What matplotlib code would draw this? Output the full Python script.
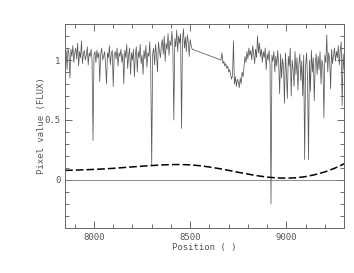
import matplotlib
matplotlib.use("Agg")
import matplotlib.pyplot as plt
import numpy as np

# spectrum, first chunk 7850-8510 A every 5 A
pos_a = np.arange(7850, 8511, 5)
flux_a = [
    1.00, 1.08, 0.92, 1.10, 1.05, 0.85, 1.09, 1.03, 1.12, 0.98,
    1.06, 1.10, 1.01, 1.14, 0.95, 1.07, 1.02, 1.16, 0.97, 1.05,
    1.08, 1.00, 1.04, 1.11, 0.96, 1.06, 1.03, 1.09, 0.99, 0.33,
    1.04, 1.07, 0.98, 1.08, 1.02, 1.06, 0.82, 1.05, 1.10, 1.00,
    1.03, 1.07, 0.97, 0.80, 1.06, 1.02, 1.12, 0.96, 1.05, 1.08,
    0.78, 1.04, 1.07, 1.01, 1.10, 0.95, 1.06, 1.03, 1.09, 0.98,
    1.05, 0.80, 1.08, 1.02, 1.13, 0.93, 1.04, 1.10, 0.88, 1.06,
    1.00, 1.09, 0.86, 1.05, 1.11, 0.90, 1.07, 1.02, 1.13, 0.97,
    1.04, 0.88, 1.08, 1.01, 1.12, 0.94, 1.06, 1.03, 1.15, 0.92,
    0.12, 1.05, 1.10, 0.96, 1.13, 1.04, 0.90, 1.15, 1.08, 1.02,
    1.12, 1.17, 1.05, 1.20, 0.99, 1.14, 1.09, 1.22, 1.04, 1.16,
    1.12, 1.24, 1.08, 0.50, 1.18, 1.11, 1.25, 1.07, 1.20, 1.14,
    1.22, 0.43, 1.16, 1.26, 1.10, 1.19, 1.07, 1.21, 1.15, 1.03,
    1.17, 1.12, 1.09,
]

# second chunk 8660-9300 A every 5 A
pos_b = np.arange(8660, 9301, 5)
flux_b = [
    1.00, 1.06, 0.97, 0.99, 0.95, 0.97, 0.93, 0.95, 0.90, 0.92,
    0.88, 0.84, 0.87, 1.16, 0.80, 0.86, 0.78, 0.84, 0.82, 0.77,
    0.85, 0.80, 0.90, 0.86, 0.95, 1.03, 0.98, 1.07, 1.01, 1.10,
    1.04, 1.08, 1.00, 1.12, 1.05, 0.97, 1.09, 1.02, 1.20, 1.06,
    1.14, 1.03, 1.09, 0.98, 1.07, 1.02, 1.10, 0.92, 1.05, 1.00,
    1.08, 0.96, -0.20, 1.04, 0.99, 1.07, 0.90, 1.03, 0.95, 1.08,
    0.97, 0.72, 1.05, 0.85, 1.01, 0.94, 0.64, 1.06, 0.90, 0.68,
    1.03, 0.95, 1.10, 0.70, 1.00, 0.92, 0.78, 1.07, 0.88, 1.02,
    0.75, 0.97, 1.05, 0.83, 0.99, 0.70, 1.04, 0.17, 0.95, 1.06,
    0.85, 0.17, 1.00, 0.74, 1.08, 0.90, 1.02, 0.66, 0.97, 1.05,
    0.88, 1.03, 0.92, 1.07, 0.80, 1.00, 0.95, 0.52, 1.04, 0.98,
    1.21, 0.90, 1.06, 1.01, 0.76, 1.09, 0.97, 1.04, 1.10, 0.99,
    1.07, 1.02, 1.12, 0.96, 1.08, 1.15, 0.62, 1.05, 0.92,
]

# smooth dashed curve
curve_pos = np.arange(7850, 9301, 50)
curve_val = [
    0.080, 0.082, 0.085, 0.088, 0.092, 0.097, 0.103, 0.109, 0.115, 0.120,
    0.125, 0.128, 0.129, 0.126, 0.119, 0.108, 0.095, 0.080, 0.064, 0.049,
    0.035, 0.024, 0.017, 0.015, 0.018, 0.028, 0.045, 0.067, 0.097, 0.135,
]

x_ticks = [8000, 8500, 9000]
y_ticks = [0, 0.5, 1]
y_tick_labels = ["0", "0.5", "1"]

grey = "#555555"
plt.rcParams['font.family'] = ['DejaVu Sans Mono']

fig = plt.figure(figsize=(3.54, 2.73), dpi=100)
fig.patch.set_facecolor("white")
ax = fig.add_axes([0.184, 0.165, 0.788, 0.747])

pos = np.concatenate([pos_a, pos_b])
flux = np.concatenate([flux_a, flux_b])
ax.plot(pos, flux, color="#5a5a5a", linewidth=0.55)
ax.axhline(0, color="#777777", linewidth=0.6)
ax.plot(curve_pos, curve_val, color="black", linewidth=1.1, linestyle=(0, (5, 2)))

ax.set_xlim(7850, 9300)
ax.set_ylim(-0.4, 1.3)
ax.set_xticks(x_ticks)
ax.set_xticks(np.arange(7900, 9301, 100), minor=True)
ax.set_yticks(y_ticks)
ax.set_yticklabels(y_tick_labels)
ax.set_yticks(np.arange(-0.4, 1.31, 0.1), minor=True)

ax.tick_params(which="both", direction="in", top=True, right=True,
               colors=grey, labelsize=6.5, width=0.6)
ax.tick_params(which="major", length=5)
ax.tick_params(which="minor", length=3)
for s in ax.spines.values():
    s.set_color("#666666")
    s.set_linewidth(0.7)

ax.set_xlabel("Position ( )", fontsize=6.5, color=grey, labelpad=1)
ax.set_ylabel("Pixel value (FLUX)", fontsize=6.5, color=grey)
ax.yaxis.set_label_coords(-0.07, 0.5)

fig.savefig("out.png", dpi=100)
